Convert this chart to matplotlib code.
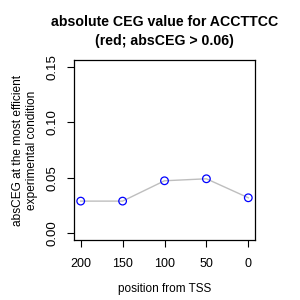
import matplotlib
matplotlib.use("Agg")
import matplotlib.pyplot as plt

positions = [200, 150, 100, 50, 0]
abs_ceg = [0.029, 0.029, 0.0473, 0.0491, 0.032]
xticks = [200, 150, 100, 50, 0]
yticks = [0.00, 0.05, 0.10, 0.15]
ytick_labels = ["0.00", "0.05", "0.10", "0.15"]

plt.rcParams['font.family'] = ['Liberation Sans', 'DejaVu Sans']

fig = plt.figure(figsize=(3, 3), dpi=100)
ax = fig.add_axes([74/300, 60/300, 181/300, 180/300])

ax.plot(positions, abs_ceg, color='#bebebe', linewidth=1, zorder=1)
ax.scatter(positions, abs_ceg, s=30, facecolors='none', edgecolors='blue', linewidths=0.9, zorder=2)

ax.set_xlim(208, -8)
ax.set_ylim(-0.006, 0.156)
ax.set_xticks(xticks)
ax.set_xticklabels([str(v) for v in xticks], fontsize=9)
ax.set_yticks(yticks)
ax.set_yticklabels(ytick_labels, fontsize=9.5, rotation=90, va='center')
ax.tick_params(direction='out', length=5, width=0.8)
ax.tick_params(axis='x', pad=8)
ax.tick_params(axis='y', pad=6)
for s in ax.spines.values():
    s.set_linewidth(0.9)

ax.set_xlabel("position from TSS", fontsize=8.5, labelpad=9)
ax.set_ylabel("absCEG at the most efficient\nexperimental condition", fontsize=8.6, labelpad=6, linespacing=1.25)
ax.set_title("absolute CEG value for ACCTTCC\n(red; absCEG > 0.06)", fontsize=10.2, fontweight='bold', pad=11, linespacing=1.4)

fig.savefig("out.png", dpi=100)
